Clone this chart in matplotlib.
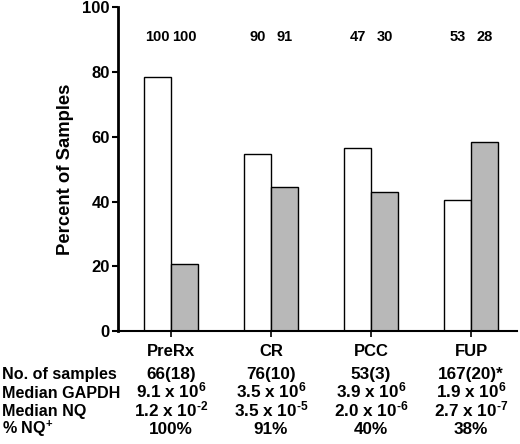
import matplotlib
matplotlib.use('Agg')
import numpy as np
import matplotlib.pyplot as plt
from matplotlib.transforms import blended_transform_factory

plt.rcParams['font.family'] = ['Liberation Sans', 'DejaVu Sans']
plt.rcParams['font.weight'] = 'bold'
plt.rcParams['mathtext.fontset'] = 'custom'
plt.rcParams['mathtext.rm'] = 'Liberation Sans:bold'
plt.rcParams['mathtext.it'] = 'Liberation Sans:bold'
plt.rcParams['mathtext.bf'] = 'Liberation Sans:bold'
plt.rcParams['mathtext.default'] = 'rm'

categories = ['PreRx', 'CR', 'PCC', 'FUP']
white_vals = [78.5, 54.6, 56.4, 40.6]
gray_vals = [20.6, 44.5, 42.8, 58.5]
white_counts = ['100', '90', '47', '53']
gray_counts = ['100', '91', '30', '28']

row_labels = ['No. of samples', 'Median GAPDH', 'Median NQ', '% NQ$^{+}$']
n_samples = ['66(18)', '76(10)', '53(3)', '167(20)*']
median_gapdh = ['9.1 x 10$^{6}$', '3.5 x 10$^{6}$', '3.9 x 10$^{6}$', '1.9 x 10$^{6}$']
median_nq = ['1.2 x 10$^{\\text{-}2}$', '3.5 x 10$^{\\text{-}5}$',
             '2.0 x 10$^{\\text{-}6}$', '2.7 x 10$^{\\text{-}7}$']
pct_nq = ['100%', '91%', '40%', '38%']

W, H = 520, 444
fig = plt.figure(figsize=(5.2, 4.44), dpi=100)
ax = fig.add_axes([118 / W, 1 - 331 / H, (517 - 118) / W, (331 - 7.3) / H])

x = np.arange(len(categories))
bw = 0.27
ax.bar(x - bw / 2, white_vals, bw, color='white', edgecolor='black', linewidth=1.0)
ax.bar(x + bw / 2, gray_vals, bw, color='#b8b8b8', edgecolor='black', linewidth=1.0)

for i in range(len(categories)):
    ax.text(x[i] - bw / 2, 90.8, white_counts[i], ha='center', va='center',
            fontsize=10.5, fontweight='bold')
    ax.text(x[i] + bw / 2, 90.8, gray_counts[i], ha='center', va='center',
            fontsize=10.5, fontweight='bold')

ax.set_xlim(-0.53, 3.46)
ax.set_ylim(0, 100)
ax.set_yticks([0, 20, 40, 60, 80, 100])
ax.set_xticks(x)
ax.set_xticklabels(categories)
ax.tick_params(axis='y', labelsize=12, length=4, width=1.5, pad=2)
ax.tick_params(axis='x', labelsize=12, length=4, width=1.2, pad=5)
for lbl in ax.get_xticklabels() + ax.get_yticklabels():
    lbl.set_fontweight('bold')
ax.spines['top'].set_visible(False)
ax.spines['right'].set_visible(False)
ax.spines['left'].set_linewidth(2)
ax.spines['bottom'].set_linewidth(1.5)
ax.set_ylabel('Percent of Samples', fontsize=13.3, fontweight='bold', labelpad=6)

tr = blended_transform_factory(ax.transData, fig.transFigure)
rows = [n_samples, median_gapdh, median_nq, pct_nq]
baselines = [379, 397.7, 416, 434.3]
for lab, vals, by in zip(row_labels, rows, baselines):
    fy = 1 - by / H
    fig.text(2 / W, fy, lab, ha='left', va='baseline', fontsize=11.6, fontweight='bold')
    for i, v in enumerate(vals):
        ax.text(x[i], fy, v, transform=tr, ha='center', va='baseline',
                fontsize=12.3, fontweight='bold', clip_on=False)

fig.savefig('out.png', dpi=100)
